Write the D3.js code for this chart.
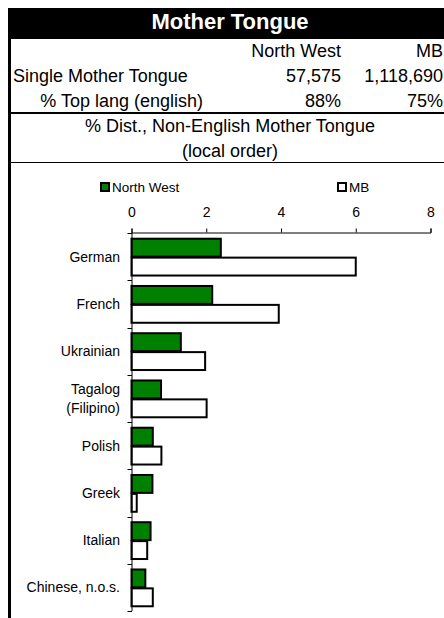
<!DOCTYPE html>
<html>
<head>
<meta charset="utf-8">
<script src="https://cdn.jsdelivr.net/npm/d3@7"></script>
<style>
  html, body { margin: 0; padding: 0; background: #fff; }
  svg { display: block; font-family: "Liberation Sans", Arial, sans-serif; }
</style>
</head>
<body>
<div id="chart"></div>
<script>
  // Table part
  const columns = ["North West", "MB"];
  const tableRows = [
    { label: "Single Mother Tongue", values: ["57,575", "1,118,690"] },
    { label: "% Top lang (english)", values: ["88%", "75%"] }
  ];

  // Chart part
  const categories = ["German", "French", "Ukrainian", "Tagalog\n(Filipino)", "Polish", "Greek", "Italian", "Chinese, n.o.s."];
  const northWest = [2.39, 2.16, 1.32, 0.79, 0.57, 0.56, 0.51, 0.37];
  const mb = [6.0, 3.94, 1.97, 2.01, 0.80, 0.14, 0.42, 0.57];
  const xTicks = [0, 2, 4, 6, 8];
  const seriesNames = ["North West", "MB"];
  const seriesColors = ["#008000", "#ffffff"];

  const width = 444, height = 618;

  const svg = d3.select("#chart")
    .append("svg")
    .attr("width", width)
    .attr("height", height);

  // title bar
  svg.append("rect")
    .attr("x", 8).attr("y", 8)
    .attr("width", width - 8).attr("height", 31)
    .attr("fill", "#000");

  svg.append("text")
    .attr("x", 230).attr("y", 29)
    .attr("text-anchor", "middle")
    .attr("fill", "#fff")
    .style("font-size", "22px")
    .style("font-weight", "bold")
    .text("Mother Tongue");

  // left border
  svg.append("rect")
    .attr("x", 8).attr("y", 38)
    .attr("width", 3).attr("height", height - 38)
    .attr("fill", "#000");

  // column headers
  const colRight = [341, 443];
  svg.selectAll(".col-head")
    .data(columns)
    .enter()
    .append("text")
    .attr("class", "col-head")
    .attr("x", (d, i) => colRight[i])
    .attr("y", 57)
    .attr("text-anchor", "end")
    .style("font-size", "18px")
    .text(d => d);

  const rowY = [82, 107];
  const labelX = [13, 203];
  const labelAnchor = ["start", "end"];
  const rowG = svg.selectAll(".trow")
    .data(tableRows)
    .enter()
    .append("g")
    .attr("class", "trow");

  rowG.append("text")
    .attr("x", (d, i) => labelX[i])
    .attr("y", (d, i) => rowY[i])
    .attr("text-anchor", (d, i) => labelAnchor[i])
    .style("font-size", "18px")
    .text(d => d.label);

  rowG.each(function (d, ri) {
    d3.select(this).selectAll(".val")
      .data(d.values)
      .enter()
      .append("text")
      .attr("class", "val")
      .attr("x", (v, i) => colRight[i])
      .attr("y", rowY[ri])
      .attr("text-anchor", "end")
      .style("font-size", "18px")
      .text(v => v);
  });

  // separator lines
  svg.append("rect")
    .attr("x", 8).attr("y", 112)
    .attr("width", width - 8).attr("height", 2)
    .attr("fill", "#000");
  svg.append("rect")
    .attr("x", 8).attr("y", 162)
    .attr("width", width - 8).attr("height", 1)
    .attr("fill", "#000");

  svg.append("text")
    .attr("x", 230).attr("y", 132)
    .attr("text-anchor", "middle")
    .style("font-size", "18px")
    .text("% Dist., Non-English Mother Tongue");
  svg.append("text")
    .attr("x", 230).attr("y", 157)
    .attr("text-anchor", "middle")
    .style("font-size", "18px")
    .text("(local order)");

  // legend
  const legendX = [100, 337];
  const legend = svg.selectAll(".legend")
    .data(seriesNames)
    .enter()
    .append("g")
    .attr("class", "legend")
    .attr("transform", (d, i) => `translate(${legendX[i]}, 182)`);
  legend.append("rect")
    .attr("x", 1).attr("y", 1)
    .attr("width", 8).attr("height", 8)
    .attr("fill", (d, i) => seriesColors[i])
    .attr("stroke", "#000")
    .attr("stroke-width", 2);
  legend.append("text")
    .attr("x", 12).attr("y", 10)
    .style("font-size", "13.5px")
    .text(d => d);

  // scales
  const x = d3.scaleLinear()
    .domain([0, 8])
    .range([131.5, 430.5]);

  const y = d3.scaleBand()
    .domain(categories)
    .range([233, 611])
    .paddingInner(0.2)
    .paddingOuter(0.1);

  const ySub = d3.scaleBand()
    .domain(seriesNames)
    .range([0, y.bandwidth()]);

  const step = y.step();

  // bars
  const groups = svg.selectAll(".cat")
    .data(categories.map((c, i) => ({ key: c, values: [northWest[i], mb[i]] })))
    .enter()
    .append("g")
    .attr("class", "cat")
    .attr("transform", d => `translate(0, ${y(d.key)})`);

  groups.selectAll("rect")
    .data(d => d.values.map((v, i) => ({ series: seriesNames[i], value: v, idx: i })))
    .enter()
    .append("rect")
    .attr("x", x(0))
    .attr("y", d => ySub(d.series) + 1)
    .attr("width", d => x(d.value) - x(0))
    .attr("height", ySub.bandwidth() - 1)
    .attr("fill", d => seriesColors[d.idx])
    .attr("stroke", "#000")
    .attr("stroke-width", 2);

  // top x axis
  const xAxis = svg.append("g")
    .attr("transform", `translate(0, 232.5)`)
    .call(d3.axisTop(x).tickValues(xTicks).tickSize(4).tickPadding(12));
  xAxis.select(".domain").attr("stroke", "#000");
  xAxis.selectAll("text")
    .style("font-size", "14px")
    .style("font-family", "Liberation Sans, Arial, sans-serif")
    .attr("fill", "#000");

  // left category axis with ticks at band boundaries
  const yAxis = svg.append("g").attr("class", "y-axis");
  yAxis.append("line")
    .attr("x1", x(0) + 0.5).attr("x2", x(0) + 0.5)
    .attr("y1", 232.5).attr("y2", 611)
    .attr("stroke", "#000");
  const boundaries = categories.map(c => y(c) - step * 0.1).concat([y(categories[categories.length - 1]) + y.bandwidth() + step * 0.1]);
  yAxis.selectAll(".btick")
    .data(boundaries)
    .enter()
    .append("line")
    .attr("x1", x(0) - 4).attr("x2", x(0) + 0.5)
    .attr("y1", d => Math.round(d) + 0.5).attr("y2", d => Math.round(d) + 0.5)
    .attr("stroke", "#000");

  // category labels
  const labels = yAxis.selectAll(".cat-label")
    .data(categories)
    .enter()
    .append("text")
    .attr("class", "cat-label")
    .attr("text-anchor", "end")
    .style("font-size", "14px")
    .attr("fill", "#000");
  labels.each(function (d) {
    const lines = d.split("\n");
    const mid = y(d) + y.bandwidth() / 2;
    const lh = 19;
    d3.select(this).selectAll("tspan")
      .data(lines)
      .enter()
      .append("tspan")
      .attr("x", 120)
      .attr("y", (l, i) => mid + 5 + (i - (lines.length - 1) / 2) * lh)
      .text(l => l);
  });
</script>
</body>
</html>
